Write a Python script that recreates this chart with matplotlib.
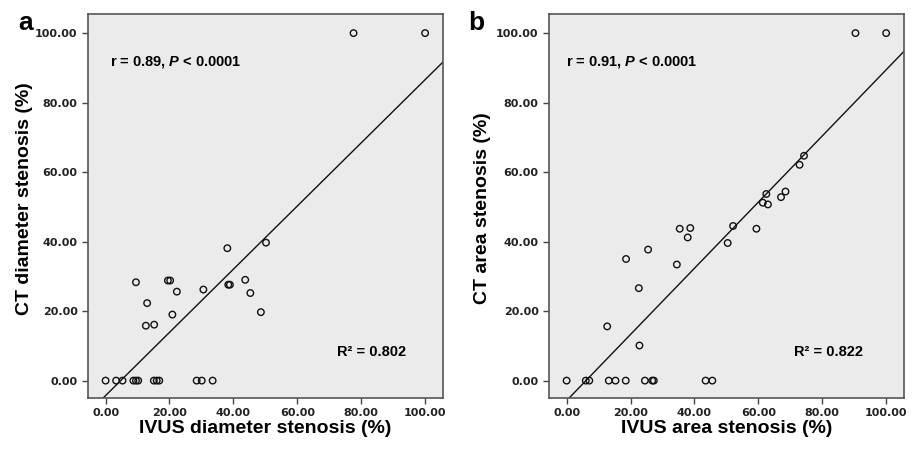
import numpy as np
import matplotlib
matplotlib.use("Agg")
import matplotlib.pyplot as plt
from matplotlib.ticker import FormatStrFormatter

plt.rcParams['mathtext.fontset'] = 'custom'
plt.rcParams['mathtext.it'] = 'Liberation Sans:bold:italic'
plt.rcParams['mathtext.rm'] = 'Liberation Sans:bold'

# panel a: diameter stenosis (%)
ivus_diam = [77.6, 100.0, 50.2, 38.1, 9.5, 19.5, 20.2, 22.3, 30.6, 38.4, 38.9,
             43.7, 45.3, 48.6, 13.0, 20.9, 12.6, 15.2,
             0.0, 3.3, 5.3, 8.7, 9.5, 10.2, 15.1, 16.0, 16.8, 28.5, 30.1, 33.5]
ct_diam = [100.0, 100.0, 39.7, 38.1, 28.3, 28.8, 28.8, 25.6, 26.2, 27.6, 27.6,
           29.0, 25.2, 19.7, 22.3, 19.0, 15.8, 16.1,
           0, 0, 0, 0, 0, 0, 0, 0, 0, 0, 0, 0]
fit_a = (0.909, -4.3)

# panel b: area stenosis (%)
ivus_area = [90.4, 100.0, 74.3, 72.9, 62.5, 68.5, 67.1, 61.4, 63.0, 52.1, 59.4,
             50.4, 35.4, 38.7, 37.9, 25.5, 18.6, 34.5, 22.6, 12.7, 22.8,
             0.0, 6.0, 7.1, 13.2, 15.3, 18.5, 24.5, 26.8, 27.3, 43.5, 45.6]
ct_area = [100.0, 100.0, 64.7, 62.1, 53.7, 54.4, 52.8, 51.2, 50.7, 44.5, 43.7,
           39.6, 43.7, 43.9, 41.2, 37.7, 35.0, 33.4, 26.6, 15.6, 10.1,
           0, 0, 0, 0, 0, 0, 0, 0, 0, 0, 0]
fit_b = (0.952, -5.76)

panels = [
    ("a", ivus_diam, ct_diam, fit_a, "r = 0.89, $\\mathit{P}$ < 0.0001", "R\u00b2 = 0.802",
     "IVUS diameter stenosis (%)", "CT diameter stenosis (%)",
     [0.0963, 0.1156, 0.3884, 0.8533], (1.3, 72.4), (-0.155, 0.52), 0.0197),
    ("b", ivus_area, ct_area, fit_b, "r = 0.91, $\\mathit{P}$ < 0.0001", "R\u00b2 = 0.822",
     "IVUS area stenosis (%)", "CT area stenosis (%)",
     [0.6007, 0.1156, 0.3884, 0.8533], (-0.2, 71.3), (-0.163, 0.495), 0.512),
]

fig = plt.figure(figsize=(9.14, 4.5), dpi=100)
font = 'Liberation Sans'

for letter, xs, ys, fit, rtext, r2text, xlabel, ylabel, pos, tx, ylab_xy, letter_x in panels:
    ax = fig.add_axes(pos)
    ax.set_facecolor('#ebebeb')
    ax.set_xlim(-5.5, 105.6)
    ax.set_ylim(-5.0, 105.5)

    ax.scatter(xs, ys, s=22, facecolors='none', edgecolors='#111111', linewidths=1.0, zorder=3)
    lx = np.array([-6.0, 106.0])
    ax.plot(lx, fit[0] * lx + fit[1], color='#111111', lw=1.0, zorder=2)

    ax.text(tx[0], 91.7, rtext, fontsize=10.5, fontweight='bold', family=font, va='center', ha='left')
    ax.text(tx[1], 8.1, r2text, fontsize=10.5, fontweight='bold', family=font, va='center', ha='left')

    ticks = [0, 20, 40, 60, 80, 100]
    ax.set_xticks(ticks)
    ax.set_yticks(ticks)
    ax.xaxis.set_major_formatter(FormatStrFormatter('%.2f'))
    ax.yaxis.set_major_formatter(FormatStrFormatter('%.2f'))
    ax.tick_params(direction='out', length=4, width=1, color='#444444', labelsize=8, labelcolor='#222222')
    for lab in ax.get_xticklabels() + ax.get_yticklabels():
        lab.set_fontweight('bold')
        lab.set_family('DejaVu Sans')
    for sp in ax.spines.values():
        sp.set_color('#555555')
        sp.set_linewidth(1.2)

    ax.set_xlabel(xlabel, fontsize=14, fontweight='bold', family=font, labelpad=1)
    ax.set_ylabel(ylabel, fontsize=14, fontweight='bold', family=font)
    ax.yaxis.set_label_coords(ylab_xy[0], ylab_xy[1])

    fig.text(letter_x, 0.933, letter, fontsize=19, fontweight='bold', family=font, va='baseline', ha='left')

fig.savefig('out.png', dpi=100)
